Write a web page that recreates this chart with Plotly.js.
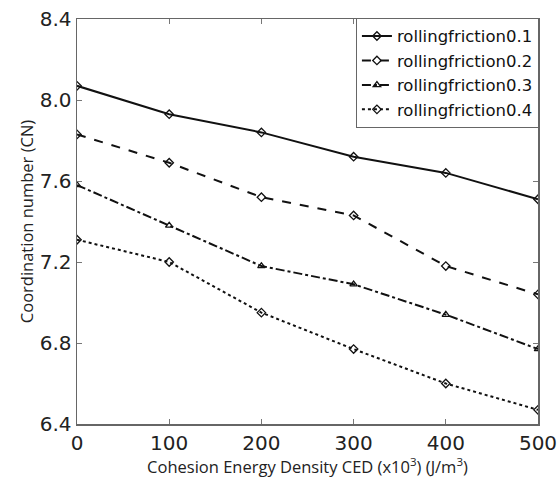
<!DOCTYPE html>
<html><head><meta charset="utf-8">
<script src="https://cdn.plot.ly/plotly-3.0.1.min.js"></script>
<style>html,body{margin:0;padding:0;background:#fff}</style>
</head><body><div id="chart" style="width:560px;height:484px"></div>
<script>
const ced = [0, 100, 200, 300, 400, 500];
const names = ["rollingfriction0.1", "rollingfriction0.2", "rollingfriction0.3", "rollingfriction0.4"];
const rf01 = [8.07, 7.93, 7.84, 7.72, 7.64, 7.51];
const rf02 = [7.83, 7.69, 7.52, 7.43, 7.18, 7.04];
const rf03 = [7.58, 7.38, 7.18, 7.09, 6.94, 6.77];
const rf04 = [7.31, 7.20, 6.95, 6.77, 6.60, 6.47];
const yTicks = [6.4, 6.8, 7.2, 7.6, 8.0, 8.4];
const yTickText = ["6.4", "6.8", "7.2", "7.6", "8.0", "8.4"];

const series = [rf01, rf02, rf03, rf04];
const dashes = ["solid", "dash", "dashdot", "dot"];
const symbols = ["diamond-open", "diamond-open", "triangle-up-open", "diamond-open"];
const traces = series.map((ys, i) => ({
  x: ced, y: ys, name: names[i], type: "scatter", mode: "lines+markers",
  line: {color: "#111", width: 2, dash: dashes[i]},
  marker: {symbol: symbols[i], size: 6.5, color: "#111", line: {width: 1.3, color: "#111"}}
}));

const layout = {
  width: 560, height: 484,
  margin: {l: 77, r: 22, t: 19, b: 60},
  paper_bgcolor: "#fff", plot_bgcolor: "#fff",
  font: {family: "DejaVu Sans", color: "#222"},
  showlegend: true,
  legend: {x: 1.002, xanchor: "right", y: 1.003, yanchor: "top", bgcolor: "#fff",
    bordercolor: "#666", borderwidth: 1, font: {family: "DejaVu Sans", size: 16.5, color: "#111"},
    tracegroupgap: 0, itemwidth: 30},
  xaxis: {range: [0, 500], tickvals: ced, ticktext: ced.map(String),
    ticks: "inside", ticklen: 5, tickcolor: "#777", mirror: "ticks",
    showline: true, linecolor: "#666", linewidth: 1.5, showgrid: false, zeroline: false,
    tickfont: {family: "DejaVu Sans", size: 20, color: "#222"},
    title: {text: "Cohesion Energy Density CED (x10<sup>3</sup>) (J/m<sup>3</sup>)",
      font: {family: "Open Sans", size: 16.5, color: "#222"}, standoff: 4}},
  yaxis: {range: [6.4, 8.4], tickvals: yTicks, ticktext: yTickText,
    ticks: "inside", ticklen: 5, tickcolor: "#777", mirror: "ticks",
    showline: true, linecolor: "#666", linewidth: 1.5, showgrid: false, zeroline: false,
    tickfont: {family: "DejaVu Sans", size: 20, color: "#222"},
    title: {text: "Coordination number (CN)", font: {family: "Open Sans", size: 16.5, color: "#222"}, standoff: 2}}
};
Plotly.newPlot("chart", traces, layout, {displayModeBar: false, staticPlot: true});
</script></body></html>
